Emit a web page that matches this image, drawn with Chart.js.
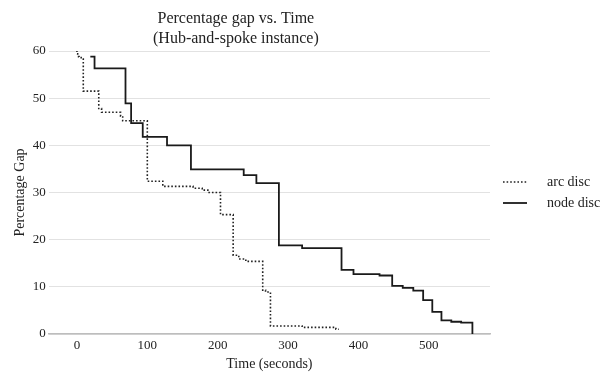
<!DOCTYPE html>
<html>
<head>
<meta charset="utf-8">
<script src="https://cdn.jsdelivr.net/npm/chart.js@4/dist/chart.umd.min.js"></script>
<style>
  html, body { margin: 0; padding: 0; background: #fff; }
  #wrap { width: 605px; height: 373px; }
</style>
</head>
<body>
<div id="wrap"><canvas id="c" width="605" height="373"></canvas></div>
<script>
// ---- data ----
const chartTitle = ['Percentage gap vs. Time', '(Hub-and-spoke instance)'];
const xTitle = 'Time (seconds)';
const yTitle = 'Percentage Gap';
const seriesNames = ['arc disc', 'node disc'];

const arcTimes = [-1, 0, 1, 3, 6, 9, 31, 35, 62, 65, 100, 122, 165, 178, 186, 204, 222, 230, 240, 264, 268, 275, 320, 368, 372];
const arcGap   = [60, 59.4, 58.8, 58.6, 58.3, 51.5, 47.8, 47.0, 46.2, 45.2, 32.4, 31.3, 30.9, 30.5, 30.0, 25.3, 16.7, 15.9, 15.4, 9.3, 8.9, 1.7, 1.4, 1.0, 1.0];

const nodeTimes = [19, 25, 69, 77, 93.5, 128, 162, 237, 255, 287, 320, 376, 393, 430, 448, 463, 478, 492, 505, 518, 532, 546, 562];
const nodeGap   = [58.8, 56.3, 48.9, 44.7, 41.8, 40.0, 34.9, 33.7, 32.0, 18.8, 18.2, 13.6, 12.7, 12.4, 10.2, 9.8, 9.2, 7.2, 4.7, 2.9, 2.6, 2.4, 0];

const xTicks = [0, 100, 200, 300, 400, 500];
const yTicks = [0, 10, 20, 30, 40, 50, 60];

const toPts = (xs, ys) => xs.map((x, i) => ({ x: x, y: ys[i] }));
const FONT = "'Liberation Serif', 'DejaVu Serif', serif";
const INK = '#222';

// title drawn slightly left of the plot centre, as in the reference
const titleBlock = {
  id: 'titleBlock',
  afterDraw(chart) {
    const { ctx, chartArea } = chart;
    const cx = chartArea.left + (chartArea.right - chartArea.left) * 0.424;
    ctx.save();
    ctx.fillStyle = INK;
    ctx.font = '16px ' + FONT;
    ctx.textAlign = 'center';
    ctx.textBaseline = 'middle';
    ctx.fillText(chartTitle[0], cx, chartArea.top - 32);
    ctx.fillText(chartTitle[1], cx, chartArea.top - 12.5);
    ctx.restore();
  }
};

const sideLegend = {
  id: 'sideLegend',
  afterDraw(chart) {
    const { ctx, chartArea } = chart;
    const mid = (chartArea.top + chartArea.bottom) / 2;
    const ys = [mid - 10.5, mid + 10.5];
    chart.data.datasets.forEach((ds, i) => {
      const y = ys[i];
      const x0 = chartArea.right + 13;
      ctx.save();
      ctx.strokeStyle = ds.borderColor;
      ctx.lineWidth = ds.borderWidth;
      ctx.setLineDash(ds.borderDash || []);
      ctx.beginPath();
      ctx.moveTo(x0, y);
      ctx.lineTo(x0 + 24, y);
      ctx.stroke();
      ctx.setLineDash([]);
      ctx.fillStyle = INK;
      ctx.font = '14px ' + FONT;
      ctx.textBaseline = 'middle';
      ctx.textAlign = 'left';
      ctx.fillText(ds.label, chartArea.right + 57, y);
      ctx.restore();
    });
  }
};

new Chart(document.getElementById('c'), {
  type: 'line',
  data: {
    datasets: [
      {
        label: seriesNames[0],
        data: toPts(arcTimes, arcGap),
        stepped: true,
        borderColor: '#222',
        borderWidth: 1.6,
        borderDash: [1.6, 2],
        pointRadius: 0,
        fill: false
      },
      {
        label: seriesNames[1],
        data: toPts(nodeTimes, nodeGap),
        stepped: true,
        borderColor: '#1a1a1a',
        borderWidth: 1.8,
        pointRadius: 0,
        fill: false
      }
    ]
  },
  options: {
    responsive: false,
    animation: false,
    layout: { padding: { left: 12, right: 115, top: 51, bottom: 2 } },
    plugins: {
      legend: { display: false },
      tooltip: { enabled: false },
      title: { display: false }
    },
    scales: {
      x: {
        type: 'linear',
        min: -40,
        max: 587,
        afterBuildTicks: (scale) => { scale.ticks = xTicks.map(v => ({ value: v })); },
        ticks: { color: INK, font: { family: FONT, size: 13, lineHeight: 1.0 }, padding: 5, maxRotation: 0 },
        grid: { display: false, drawTicks: false },
        border: { display: true, color: '#bdbdbd', width: 1.5 },
        title: { display: true, text: xTitle, color: INK, font: { family: FONT, size: 14, lineHeight: 1.0 }, padding: { top: 0, bottom: 0 } }
      },
      y: {
        min: 0,
        max: 60,
        afterBuildTicks: (scale) => { scale.ticks = yTicks.map(v => ({ value: v })); },
        ticks: { color: INK, font: { family: FONT, size: 13 }, padding: 3 },
        grid: { color: '#e2e2e2', drawTicks: false, lineWidth: 1 },
        border: { display: false },
        title: { display: true, text: yTitle, color: INK, font: { family: FONT, size: 14 }, padding: { top: 0, bottom: 1 } }
      }
    }
  },
  plugins: [titleBlock, sideLegend]
});
</script>
</body>
</html>
